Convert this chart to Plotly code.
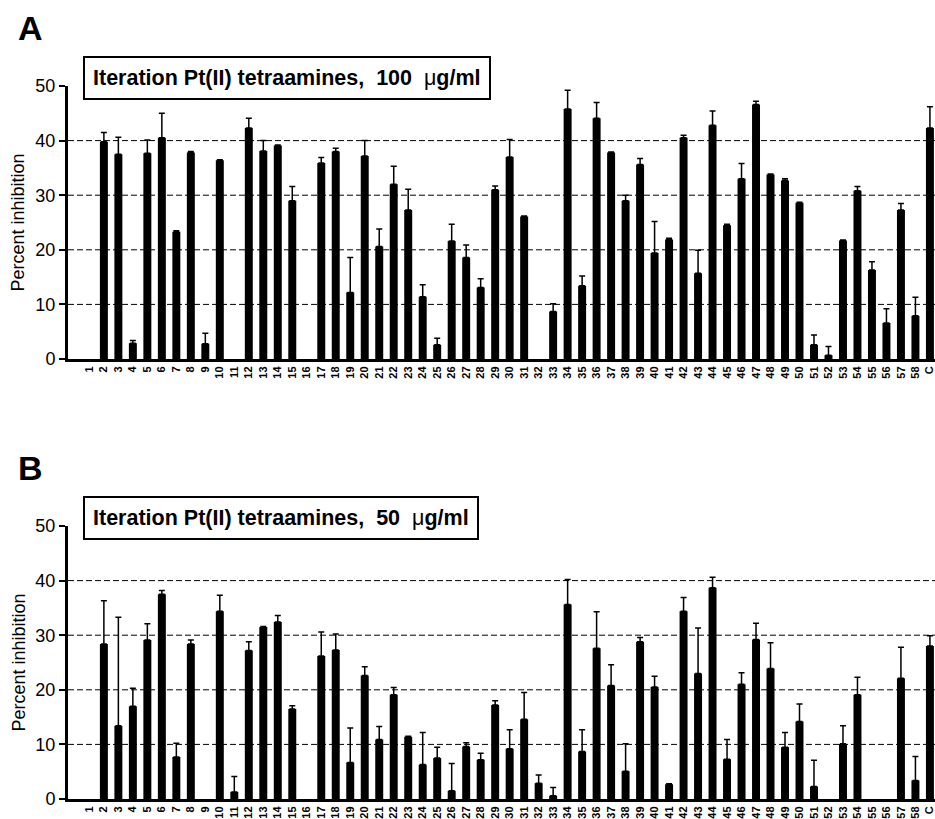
import plotly.graph_objects as go

W, H = 935, 819

labels = [str(i) for i in range(1, 59)] + ["C"]

a_vals = [0, 39.8, 37.5, 2.9, 37.7, 40.5, 23.3, 37.8, 2.8, 36.4,
          0, 42.3, 38.1, 39.1, 29.0, 0, 35.9, 38.0, 12.2, 37.2,
          20.6, 32.0, 27.3, 11.4, 2.6, 21.6, 18.6, 13.1, 31.0, 37.0,
          26.1, 0, 8.7, 45.8, 13.4, 44.1, 37.8, 29.0, 35.6, 19.4,
          21.9, 40.5, 15.7, 42.8, 24.5, 33.0, 46.6, 33.8, 32.7, 28.6,
          2.6, 0.7, 21.7, 30.8, 16.3, 6.6, 27.3, 7.9, 42.3]
a_err = [0, 1.7, 3.1, 0.5, 2.4, 4.5, 0.2, 0.2, 1.9, 0.1,
         0, 1.8, 1.9, 0.1, 2.6, 0, 1.0, 0.6, 6.4, 2.8,
         3.2, 3.3, 3.8, 2.2, 1.2, 3.1, 2.3, 1.6, 0.7, 3.2,
         0.1, 0, 1.4, 3.4, 1.8, 2.9, 0.1, 1.0, 1.1, 5.8,
         0.2, 0.5, 4.2, 2.6, 0.2, 2.8, 0.6, 0.1, 0.3, 0.1,
         1.8, 1.6, 0.1, 0.8, 1.5, 2.6, 1.2, 3.4, 3.9]

b_vals = [0, 28.4, 13.4, 17.0, 29.1, 37.5, 7.7, 28.4, 0, 34.4,
          1.3, 27.2, 31.5, 32.4, 16.5, 0, 26.2, 27.3, 6.7, 22.6,
          10.9, 19.1, 11.4, 6.3, 7.5, 1.5, 9.6, 7.2, 17.2, 9.2,
          14.6, 2.9, 0.6, 35.6, 8.7, 27.6, 20.8, 5.1, 28.8, 20.5,
          2.7, 34.4, 23.0, 38.7, 7.3, 21.0, 29.2, 23.9, 9.5, 14.2,
          2.3, 0, 10.1, 19.1, 0, 0, 22.1, 3.4, 28.0]
b_err = [0, 7.9, 19.9, 3.3, 3.0, 0.7, 2.5, 0.7, 0, 2.9,
         2.8, 1.6, 0.1, 1.2, 0.6, 0, 4.4, 2.9, 6.3, 1.6,
         2.4, 1.3, 0.1, 5.9, 2.0, 5.0, 0.7, 1.2, 0.8, 3.5,
         4.9, 1.5, 1.5, 4.6, 4.0, 6.7, 3.8, 5.0, 0.8, 2.0,
         0.1, 2.5, 8.3, 1.9, 3.6, 2.1, 3.0, 4.7, 2.7, 3.2,
         4.8, 0, 3.3, 3.2, 0, 0, 5.7, 4.4, 1.9]

y_ticks = [0, 10, 20, 30, 40, 50]
grid_vals = [10, 20, 30, 40]

panel_letters = ["A", "B"]
panel_concs = ["100", "50"]
y_title = "Percent inhibition"

FONT = "Liberation Sans, Arial, sans-serif"

# pixel geometry
x_left = 68
panels_px = [(86, 359), (526, 799)]  # (pixel of 50, pixel of 0)


def py(p):
    return 1 - p / H


def px(p):
    return p / W


fig = go.Figure()

for k, (vals, errs) in enumerate([(a_vals, a_err), (b_vals, b_err)]):
    xa = "x" if k == 0 else "x2"
    ya = "y" if k == 0 else "y2"
    shown = [v if v > 0 else None for v in vals]
    up = [e if e > 0 else None for e in errs]
    down = [0 if e > 0 else None for e in errs]
    fig.add_trace(go.Bar(
        x=labels, y=shown, xaxis=xa, yaxis=ya,
        marker=dict(color="black", line=dict(width=0)),
        width=0.55,
        error_y=dict(type="data", symmetric=False, array=up,
                     arrayminus=down, color="black",
                     thickness=1.5, width=3),
        showlegend=False,
    ))

axis_x = dict(
    type="category", categoryorder="array", categoryarray=labels,
    range=[-1.476, 58.35], domain=[px(x_left), 1], automargin=False,
    showline=True, linewidth=3, linecolor="black",
    ticks="", showgrid=False, zeroline=False,
    tickmode="array", tickvals=labels, ticktext=["<b>%s</b>" % t for t in labels],
    tickangle=-90, tickfont=dict(family=FONT, size=11, color="black"),
)
axis_y = dict(
    range=[0, 50], showline=True, linewidth=3, linecolor="black", automargin=False,
    ticks="outside", ticklen=6, tickwidth=2, tickcolor="black",
    tickvals=y_ticks, showgrid=False, zeroline=False,
    tickfont=dict(family=FONT, size=18, color="black"),
)

layout = dict(
    width=W, height=H, margin=dict(l=0, r=0, t=0, b=0, autoexpand=False),
    plot_bgcolor="white", paper_bgcolor="white", bargap=0.45,
)
for k, (top, bot) in enumerate(panels_px):
    xk = "xaxis" if k == 0 else "xaxis2"
    yk = "yaxis" if k == 0 else "yaxis2"
    ax = dict(axis_x)
    ay = dict(axis_y)
    ay["domain"] = [py(bot), py(top)]
    ax["anchor"] = "y" if k == 0 else "y2"
    ay["anchor"] = "x" if k == 0 else "x2"
    layout[xk] = ax
    layout[yk] = ay
fig.update_layout(**layout)

shapes = []
annotations = []
for k, (top, bot) in enumerate(panels_px):
    xr = "x domain" if k == 0 else "x2 domain"
    yr = "y" if k == 0 else "y2"
    for g in grid_vals:
        shapes.append(dict(type="line", xref=xr, yref=yr, x0=0, x1=1, y0=g, y1=g,
                           line=dict(color="black", width=1, dash="6px,3px"),
                           layer="below"))
    off = 0 if k == 0 else 440
    annotations.append(dict(
        text="<b>%s</b>" % panel_letters[k], xref="paper", yref="paper",
        x=px(16), y=py(28 + off), xanchor="left", yanchor="middle",
        showarrow=False, font=dict(family=FONT, size=34, color="black")))
    title = "<b>Iteration Pt(II) tetraamines,  %s  </b>\u03bc<b>g/ml</b>" % panel_concs[k]
    annotations.append(dict(
        text=title, xref="paper", yref="paper",
        x=px(83), y=py(78 + off), xanchor="left", yanchor="middle",
        showarrow=False, font=dict(family=FONT, size=21.5, color="black"),
        bordercolor="black", borderwidth=2, borderpad=8, bgcolor="white"))
    annotations.append(dict(
        text=y_title, xref="paper", yref="paper",
        x=px(18), y=py((top + bot) / 2), xanchor="center", yanchor="middle",
        textangle=-90, showarrow=False,
        font=dict(family=FONT, size=18, color="black")))

fig.update_layout(shapes=shapes, annotations=annotations)
fig.write_html("out.html")
